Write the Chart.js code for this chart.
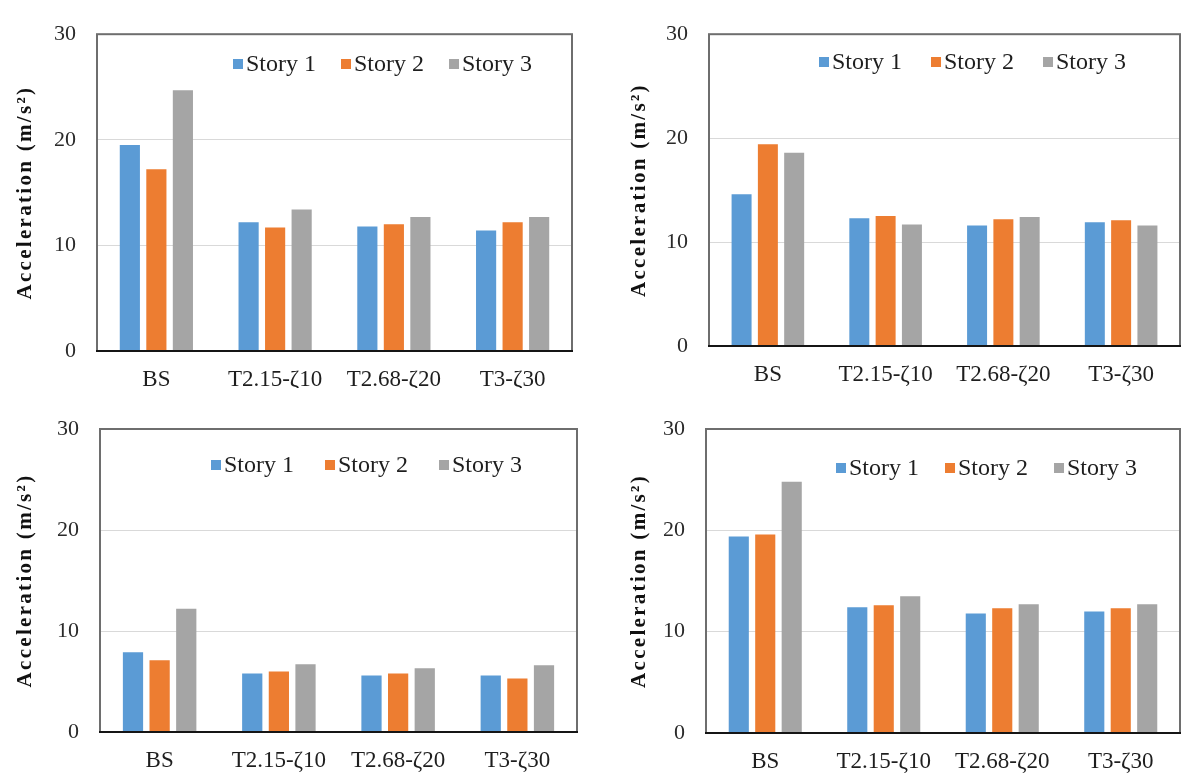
<!DOCTYPE html>
<html>
<head>
<meta charset="utf-8">
<script src="https://cdn.jsdelivr.net/npm/chart.js@4.4.1/dist/chart.umd.min.js"></script>
<style>
  html, body { margin: 0; padding: 0; background: #ffffff; }
  #wrap { position: relative; width: 1182px; height: 776px; overflow: hidden; background: #ffffff; }
  canvas { position: absolute; }
</style>
</head>
<body>
<div id="wrap">
  <canvas id="c1" width="591" height="388" style="left:0px;top:0px"></canvas>
  <canvas id="c2" width="591" height="388" style="left:591px;top:0px"></canvas>
  <canvas id="c3" width="591" height="388" style="left:0px;top:388px"></canvas>
  <canvas id="c4" width="591" height="388" style="left:591px;top:388px"></canvas>
</div>
<script>
// Categories, series names and axis ticks
const categories = ['BS', 'T2.15-ζ10', 'T2.68-ζ20', 'T3-ζ30'];
const seriesNames = ['Story 1', 'Story 2', 'Story 3'];
const yTickValues = [0, 10, 20, 30];
const yTitle = 'Acceleration (m/s²)';

// Peak floor accelerations (m/s²), one array per panel and story
const p1Story1 = [19.5, 12.2, 11.8, 11.4];
const p1Story2 = [17.2, 11.7, 12.0, 12.2];
const p1Story3 = [24.7, 13.4, 12.7, 12.7];

const p2Story1 = [14.6, 12.3, 11.6, 11.9];
const p2Story2 = [19.4, 12.5, 12.2, 12.1];
const p2Story3 = [18.6, 11.7, 12.4, 11.6];

const p3Story1 = [7.9, 5.8, 5.6, 5.6];
const p3Story2 = [7.1, 6.0, 5.8, 5.3];
const p3Story3 = [12.2, 6.7, 6.3, 6.6];

const p4Story1 = [19.4, 12.4, 11.8, 12.0];
const p4Story2 = [19.6, 12.6, 12.3, 12.3];
const p4Story3 = [24.8, 13.5, 12.7, 12.7];

const seriesColors = ['#5B9BD5', '#ED7D31', '#A5A5A5'];
const SERIF = '"Liberation Serif", "Times New Roman", serif';

// Frame around the plot area plus the dark zero axis
const framePlugin = {
  id: 'panelFrame',
  afterDatasetsDraw(chart) {
    const { ctx, chartArea: a } = chart;
    ctx.save();
    ctx.strokeStyle = '#6e6e6e';
    ctx.lineWidth = 2;
    ctx.strokeRect(a.left, a.top, a.right - a.left, a.bottom - a.top);
    ctx.strokeStyle = '#151515';
    ctx.lineWidth = 2;
    ctx.beginPath();
    ctx.moveTo(a.left - 1, a.bottom);
    ctx.lineTo(a.right + 1, a.bottom);
    ctx.stroke();
    ctx.restore();
  }
};

// Rotated, letter-spaced bold axis title
const titlePlugin = {
  id: 'sideTitle',
  afterDraw(chart, args, opts) {
    const { ctx, chartArea: a } = chart;
    ctx.save();
    ctx.translate(opts.x, (a.top + a.bottom) / 2 + (opts.dy || 0));
    ctx.rotate(-Math.PI / 2);
    ctx.font = 'bold 21px ' + SERIF;
    if ('letterSpacing' in ctx) ctx.letterSpacing = '2.3px';
    ctx.fillStyle = '#111111';
    ctx.textAlign = 'center';
    ctx.textBaseline = 'middle';
    ctx.fillText(yTitle, 0, 0);
    ctx.restore();
  }
};

// Compact legend: small square, tight gap, label
const legendPlugin = {
  id: 'storyLegend',
  afterDraw(chart, args, opts) {
    const { ctx } = chart;
    ctx.save();
    ctx.font = '24px ' + SERIF;
    ctx.textAlign = 'left';
    ctx.textBaseline = 'middle';
    let x = opts.x;
    chart.data.datasets.forEach(ds => {
      ctx.fillStyle = ds.backgroundColor;
      ctx.fillRect(x, opts.y - 5, 10, 10);
      ctx.fillStyle = '#1e1e1e';
      ctx.fillText(ds.label, x + 13, opts.y + 1);
      x += 13 + ctx.measureText(ds.label).width + opts.gap;
    });
    ctx.restore();
  }
};

function makePanel(id, seriesData, area, titleX, legend) {
  const W = 591, H = 388;
  const datasets = seriesData.map((vals, i) => ({
    label: seriesNames[i],
    data: vals,
    backgroundColor: seriesColors[i],
    borderWidth: 0,
    categoryPercentage: 0.67,
    barPercentage: 0.76
  }));
  return new Chart(document.getElementById(id), {
    type: 'bar',
    data: { labels: categories, datasets },
    options: {
      responsive: false,
      animation: false,
      devicePixelRatio: 1,
      layout: { padding: { left: 0, top: area.top, right: W - area.right, bottom: 0 } },
      plugins: {
        legend: { display: false },
        tooltip: { enabled: false },
        sideTitle: { x: titleX },
        storyLegend: legend
      },
      scales: {
        x: {
          grid: { display: false },
          border: { display: false },
          ticks: { color: '#1e1e1e', font: { family: SERIF, size: 23 }, padding: 7, maxRotation: 0, autoSkip: false },
          afterFit(scale) { scale.height = H - area.bottom; }
        },
        y: {
          min: 0,
          max: 30,
          afterBuildTicks(scale) { scale.ticks = yTickValues.map(v => ({ value: v })); },
          grid: { color: '#d9d9d9', lineWidth: 1, drawTicks: false },
          border: { display: false },
          ticks: { color: '#2a2a2a', font: { family: SERIF, size: 22 }, padding: 21 },
          afterFit(scale) { scale.width = area.left; }
        }
      }
    },
    plugins: [framePlugin, titlePlugin, legendPlugin]
  });
}

makePanel('c1', [p1Story1, p1Story2, p1Story3], { left: 97, top: 23, right: 572, bottom: 351 }, 26, { x: 233, y: 64, gap: 25 });
makePanel('c2', [p2Story1, p2Story2, p2Story3], { left: 118, top: 22, right: 589, bottom: 346 }, 49, { x: 228, y: 62, gap: 29 });
makePanel('c3', [p3Story1, p3Story2, p3Story3], { left: 100, top: 41, right: 577, bottom: 344 }, 26, { x: 211, y: 77, gap: 31 });
makePanel('c4', [p4Story1, p4Story2, p4Story3], { left: 115, top: 41, right: 589, bottom: 345 }, 49, { x: 245, y: 80, gap: 26 });
</script>
</body>
</html>
